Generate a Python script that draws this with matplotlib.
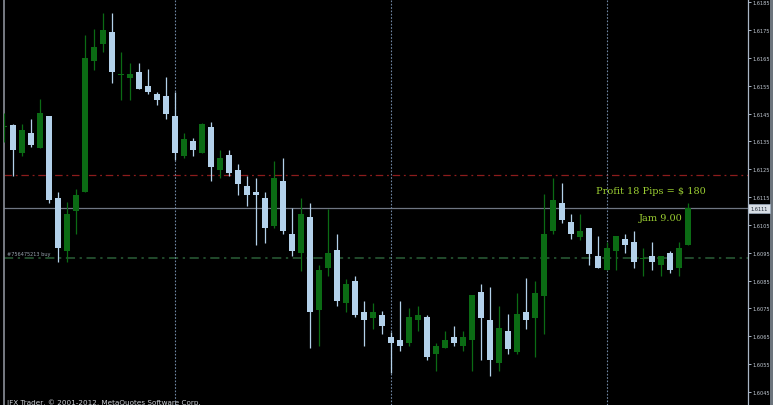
import numpy as np
import matplotlib
matplotlib.use("Agg")
import matplotlib.pyplot as plt
from matplotlib.patches import Rectangle

# H1 свечи, цены (первая свеча обрезана левым краем)
opens = [1.61402, 1.61410, 1.61308, 1.61380, 1.61327, 1.61440, 1.61147, 1.60956, 1.61099, 1.61167,
         1.61640, 1.61701, 1.61742, 1.61589, 1.61579, 1.61600, 1.61549, 1.61520, 1.61512, 1.61440,
         1.61299, 1.61350, 1.61308, 1.61401, 1.61247, 1.61300, 1.61248, 1.61189, 1.61169, 1.61148,
         1.61046, 1.61209, 1.61018, 1.60948, 1.61080, 1.60746, 1.60896, 1.60959, 1.60769, 1.60848,
         1.60738, 1.60716, 1.60728, 1.60646, 1.60637, 1.60627, 1.60708, 1.60718, 1.60585, 1.60607,
         1.60648, 1.60616, 1.60637, 1.60808, 1.60709, 1.60555, 1.60668, 1.60595, 1.60738, 1.60716,
         1.60796, 1.61028, 1.61130, 1.61060, 1.61007, 1.61038, 1.60937, 1.60887, 1.60956, 1.60998,
         1.60989, 1.60928, 1.60937, 1.60907, 1.60948, 1.60896, 1.60977]
highs = [1.61452, 1.61412, 1.61412, 1.61430, 1.61502, 1.61440, 1.61169, 1.61131, 1.61179, 1.61732,
         1.61754, 1.61811, 1.61811, 1.61672, 1.61630, 1.61630, 1.61610, 1.61528, 1.61580, 1.61526,
         1.61380, 1.61361, 1.61416, 1.61420, 1.61320, 1.61320, 1.61269, 1.61227, 1.61220, 1.61169,
         1.61280, 1.61289, 1.61110, 1.61148, 1.61129, 1.60907, 1.61107, 1.61017, 1.60856, 1.60868,
         1.60778, 1.60770, 1.60741, 1.60665, 1.60778, 1.60751, 1.60760, 1.60728, 1.60625, 1.60668,
         1.60688, 1.60668, 1.60798, 1.60838, 1.60828, 1.60760, 1.60730, 1.60806, 1.60858, 1.60848,
         1.61160, 1.61219, 1.61199, 1.61090, 1.61090, 1.61040, 1.61009, 1.60989, 1.61009, 1.61018,
         1.61029, 1.60968, 1.60989, 1.60937, 1.60957, 1.60989, 1.61130]
lows = [1.61348, 1.61227, 1.61299, 1.61329, 1.61327, 1.61129, 1.60916, 1.60916, 1.61017, 1.61167,
        1.61607, 1.61670, 1.61559, 1.61500, 1.61500, 1.61539, 1.61519, 1.61481, 1.61430, 1.61283,
        1.61289, 1.61299, 1.61308, 1.61208, 1.61217, 1.61227, 1.61158, 1.61117, 1.60978, 1.60985,
        1.61038, 1.61017, 1.60937, 1.60886, 1.60607, 1.60616, 1.60868, 1.60758, 1.60738, 1.60718,
        1.60616, 1.60676, 1.60657, 1.60518, 1.60596, 1.60616, 1.60668, 1.60566, 1.60524, 1.60607,
        1.60616, 1.60596, 1.60524, 1.60566, 1.60506, 1.60524, 1.60586, 1.60586, 1.60677, 1.60576,
        1.60657, 1.61018, 1.61058, 1.60999, 1.60996, 1.60907, 1.60896, 1.60887, 1.60887, 1.60948,
        1.60896, 1.60867, 1.60887, 1.60867, 1.60876, 1.60867, 1.60977]
closes = [1.61403, 1.61319, 1.61390, 1.61338, 1.61451, 1.61140, 1.60967, 1.61089, 1.61158, 1.61648,
          1.61690, 1.61751, 1.61598, 1.61590, 1.61591, 1.61539, 1.61528, 1.61500, 1.61449, 1.61308,
          1.61359, 1.61319, 1.61411, 1.61258, 1.61289, 1.61238, 1.61197, 1.61158, 1.61159, 1.61038,
          1.61220, 1.61028, 1.60956, 1.61089, 1.60738, 1.60887, 1.60949, 1.60776, 1.60837, 1.60727,
          1.60708, 1.60738, 1.60687, 1.60627, 1.60616, 1.60718, 1.60728, 1.60577, 1.60616, 1.60637,
          1.60627, 1.60648, 1.60797, 1.60717, 1.60566, 1.60679, 1.60604, 1.60729, 1.60708, 1.60807,
          1.61018, 1.61141, 1.61067, 1.61017, 1.61029, 1.60947, 1.60896, 1.60968, 1.61009, 1.60977,
          1.60917, 1.60929, 1.60917, 1.60937, 1.60887, 1.60968, 1.61110]

price_ticks = [1.6045, 1.6055, 1.6065, 1.6075, 1.6085, 1.6095, 1.6105, 1.6115,
               1.6125, 1.6135, 1.6145, 1.6155, 1.6165, 1.6175, 1.6185]
day_starts = [18, 42, 66]   # индексы свечей с разделителем дня
bid = 1.6111
open_price = 1.6093
tp_level = 1.6123
order_label = "#756475213 buy"
profit_text = "Profit 18 Pips = $ 180"
time_text = "Jam 9.00"
copyright_text = "IFX Trader, \u00a9 2001-2012, MetaQuotes Software Corp."

bull_color = "#0b6b14"
bear_color = "#b3d1ea"
text_color = "#9acd32"

W, H = 773, 406
fig = plt.figure(figsize=(W / 100, H / 100), dpi=100)
fig.patch.set_facecolor("black")
ax = fig.add_axes([4 / W, 0, 743.5 / W, 1])
ax.set_facecolor("black")

n = len(opens)
x = np.arange(n) - 1  # первая свеча частично за левой границей
o, h, l, c = map(np.array, (opens, highs, lows, closes))
up = c >= o
cols = np.where(up, bull_color, bear_color)

ax.vlines(x, l, h, colors=cols, linewidth=0.9, zorder=3)
body_lo = np.minimum(o, c)
body_h = np.maximum(np.abs(c - o), 0.00004)
ax.bar(x, body_h, bottom=body_lo, width=0.7, color=cols, linewidth=0, zorder=4)

# уровни
ax.axhline(tp_level, color="#8c1c1c", linewidth=0.9, linestyle=(0, (6, 3, 1.5, 3)), zorder=2)
ax.axhline(open_price, color="#2a5e38", linewidth=1.1, linestyle=(0, (6, 3, 1.5, 3)), zorder=2)
ax.axhline(bid, color="#6f7682", linewidth=0.9, zorder=2)
for d in day_starts:
    ax.axvline(d, color="#6f86a3", linewidth=0.8, linestyle=(0, (1.5, 1.5)), zorder=2)

ax.set_xlim((4 - 13.3) / 9, (747.5 - 13.3) / 9)
y_top = 1.6175 + 31 / 27846
y_bot = 1.6175 - 375 / 27846
ax.set_ylim(y_bot, y_top)

ax.yaxis.tick_right()
ax.set_yticks(price_ticks)
ax.set_yticklabels([f"{p:.4f}" for p in price_ticks])
ax.tick_params(axis="y", colors="#a9b6c6", labelcolor="#c4ccd6", length=2.5, width=0.7,
               labelsize=3.6, pad=1.2)
ax.set_xticks([])
for s in ("top", "bottom"):
    ax.spines[s].set_visible(False)
ax.spines["left"].set_color("#8b9099")
ax.spines["left"].set_linewidth(1.2)
ax.spines["right"].set_color("#a9b6c6")
ax.spines["right"].set_linewidth(0.9)

# подписи
ax.text(70.85, 1.61172, profit_text, color=text_color, fontsize=7.0, family="DejaVu Serif",
        ha="center", va="center", zorder=6)
ax.text(71.9, 1.61078, time_text, color=text_color, fontsize=7.0, family="DejaVu Serif",
        ha="center", va="center", zorder=6)
ax.text(-0.7, open_price + 0.00007, order_label, color="#9aa4b0", fontsize=3.6,
        ha="left", va="bottom", zorder=6)
fig.text(7 / W, 1 - 399.5 / H, copyright_text, color="#c8ccd2", fontsize=5.2,
         ha="left", va="top")

# метка текущей цены на шкале
bid_y = 1 - (31 + (1.6175 - bid) * 27846) / H
fig.patches.append(Rectangle((748 / W, bid_y - 4.5 / H), 22 / W, 9 / H, transform=fig.transFigure,
                             facecolor="#d7dde4", edgecolor="#9fb0c2", linewidth=0.5, zorder=5))
fig.text(759 / W, bid_y, f"{bid:.4f}", color="#1b2430", fontsize=3.6, ha="center", va="center",
         zorder=6)
# серая полоса справа
fig.patches.append(Rectangle((770 / W, 0), 3 / W, 1, transform=fig.transFigure,
                             facecolor="#6c747c", edgecolor="none"))

fig.savefig("out.png", dpi=100, facecolor="black")
